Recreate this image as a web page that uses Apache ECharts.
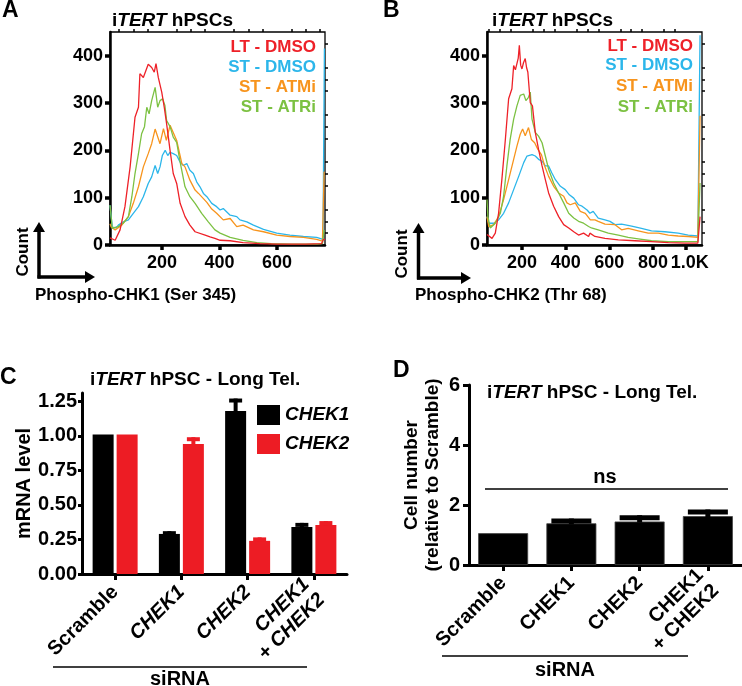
<!DOCTYPE html>
<html><head><meta charset="utf-8">
<script src="https://cdn.jsdelivr.net/npm/echarts@6/dist/echarts.min.js"></script>
<style>html,body{margin:0;padding:0;background:#fff}#c{width:742px;height:686px}</style>
</head><body><div id="c"></div>
<script>
// ---------- Panel A : Phospho-CHK1 (Ser 345) histograms ----------
const aRed = [[19,15],[23,12],[37,10],[54,32],[71,81],[89,165],[106,270],[118,291],[123,362],[135,354],[152,382],[164,375],[173,365],[179,383],[187,354],[199,323],[208,290],[216,256],[228,200],[239,151],[251,130],[263,88],[280,60],[297,42],[315,28],[350,21],[367,17],[384,14],[402,10],[437,9],[482,5],[540,3],[600,2],[700,2],[755,3],[762,12],[767,12]];
const aBlue = [[19,84],[23,60],[27,38],[40,36],[48,42],[65,49],[83,53],[100,67],[118,81],[135,102],[152,130],[164,144],[176,168],[185,151],[193,165],[201,189],[211,200],[220,189],[228,196],[239,193],[251,189],[263,175],[274,168],[286,172],[297,158],[309,151],[321,133],[332,123],[344,109],[356,102],[373,88],[390,81],[402,74],[413,77],[437,63],[460,60],[471,53],[495,49],[518,42],[553,33],[599,25],[645,21],[692,18],[738,16],[760,12],[765,415]];
const aOrange = [[19,45],[23,38],[37,32],[60,42],[83,60],[100,88],[118,123],[135,165],[152,193],[164,214],[176,245],[193,214],[205,246],[215,221],[228,253],[251,221],[269,172],[280,165],[297,137],[315,116],[327,109],[344,98],[356,90],[373,76],[390,67],[413,53],[437,56],[460,39],[482,42],[518,32],[553,28],[599,21],[645,18],[692,16],[738,12],[758,8],[764,155]];
const aGreen = [[19,84],[23,60],[27,35],[37,37],[48,39],[65,46],[83,60],[95,102],[106,151],[118,193],[129,235],[139,250],[147,291],[155,277],[164,305],[176,333],[185,291],[193,305],[202,309],[210,295],[216,263],[228,250],[239,228],[251,217],[263,175],[280,123],[297,102],[315,88],[338,67],[361,49],[384,32],[402,25],[437,16],[482,10],[530,5],[580,3],[650,2],[740,2],[758,3],[764,32]];
const aXTicks = [200, 400, 600];
const aXLabelVals = [200, 400, 600];
const aXTickLabels = ['200', '400', '600'];
const aXMinor = [50,100,150,250,300,350,450,500,550,650,700,750];

// ---------- Panel B : Phospho-CHK2 (Thr 68) histograms ----------
const bRed = [[40,22],[48,18],[63,14],[78,25],[93,67],[108,138],[124,223],[139,309],[154,330],[162,379],[170,370],[177,372],[183,395],[188,422],[194,380],[200,372],[207,385],[215,394],[221,375],[227,365],[238,301],[248,294],[261,238],[276,202],[292,167],[307,138],[322,110],[345,82],[368,60],[391,43],[414,36],[437,28],[459,21],[482,25],[505,18],[511,25],[534,18],[580,14],[641,11],[717,9],[793,7],[870,5],[946,4],[1005,4],[1015,60]];
const bBlue = [[40,60],[48,46],[71,46],[93,53],[116,67],[139,89],[162,117],[185,145],[208,174],[223,188],[246,191],[261,188],[276,181],[292,177],[307,167],[322,167],[337,152],[353,138],[376,124],[398,117],[417,106],[437,99],[459,85],[475,82],[498,74],[511,67],[526,71],[549,57],[580,53],[603,50],[626,43],[656,44],[702,40],[747,35],[793,30],[854,28],[915,25],[961,21],[1005,19],[1015,443]];
const bOrange = [[40,60],[48,39],[71,43],[93,60],[116,96],[139,138],[162,181],[177,209],[192,234],[203,245],[215,231],[230,248],[243,223],[258,216],[273,202],[289,191],[304,167],[322,145],[345,124],[368,110],[391,103],[406,89],[421,85],[444,89],[467,71],[490,67],[513,53],[534,53],[549,50],[580,44],[626,43],[656,32],[686,35],[732,30],[778,25],[824,25],[870,21],[915,19],[961,18],[1005,16],[1015,273]];
const bGreen = [[40,96],[44,60],[55,36],[78,46],[101,67],[116,103],[131,167],[146,223],[162,266],[177,294],[192,316],[200,319],[208,319],[218,305],[230,312],[238,323],[246,266],[261,238],[276,230],[292,216],[307,188],[322,160],[345,131],[368,110],[391,89],[414,67],[437,57],[459,50],[482,46],[505,39],[518,36],[549,32],[595,25],[641,21],[686,16],[732,13],[793,9],[870,7],[946,7],[1005,7],[1015,131]];
const bXTicks = [200, 400, 600, 800, 950];
const bXLabelVals = [200, 400, 600, 800, 968];
const bXTickLabels = ['200', '400', '600', '800', '1.0K'];
const bXMinor = [50,100,150,250,300,350,450,500,550,650,700,750,850,900];

const histYTicks = [0, 100, 200, 300, 400];
const histYMinor = [25,50,75,125,150,175,225,250,275,325,350,375,425];
const histNames = ['LT - DMSO', 'ST - DMSO', 'ST - ATMi', 'ST - ATRi'];

// ---------- Panel C : mRNA level ----------
const cCategories = ['Scramble', 'CHEK1', 'CHEK2', 'CHEK1 + CHEK2'];
const cChek1 = [1.01, 0.29, 1.18, 0.34];
const cChek1Err = [null, 0.31, 1.27, 0.37];
const cChek2 = [1.01, 0.94, 0.24, 0.355];
const cChek2Err = [null, 0.99, 0.265, 0.383];
const cYTicks = [0, 0.25, 0.5, 0.75, 1, 1.25];

// ---------- Panel D : Cell number ----------
const dCategories = ['Scramble', 'CHEK1', 'CHEK2', 'CHEK1 + CHEK2'];
const dCell = [1.06, 1.39, 1.45, 1.63];
const dCellErr = [null, 1.55, 1.66, 1.85];
const dYTicks = [0, 2, 4, 6];

// ---------- styling ----------
const RED = '#ee2128', BLUE = '#2cb6ea', ORANGE = '#f7941d', GREEN = '#7cc142';
const BARRED = '#ed1c24';
const FONT = 'Liberation Sans, Arial, sans-serif';
const bold = (s) => 'bold ' + s + 'px ' + FONT;

const chart = echarts.init(document.getElementById('c'), null, {renderer: 'canvas'});

function histSeries(name, data, color, xi, yi, z) {
  return {type: 'line', name, data, xAxisIndex: xi, yAxisIndex: yi, showSymbol: false, symbol: 'none',
    lineStyle: {color, width: 1.3}, itemStyle: {color}, z, clip: true, silent: true};
}
function errSeries(vals, tops, offset, capW, thick, color, xi, yi) {
  const data = [];
  vals.forEach((v, i) => { if (tops[i] != null) data.push([i, v, tops[i]]); });
  return {type: 'custom', coordinateSystem: 'cartesian2d', xAxisIndex: xi, yAxisIndex: yi,
    encode: {x: 0, y: [1, 2]}, data, z: 5, silent: true,
    renderItem: (params, api) => {
      const lo = api.coord([api.value(0), api.value(1)]);
      const hi = api.coord([api.value(0), api.value(2)]);
      const cx = lo[0] + offset;
      return {type: 'group', children: [
        {type: 'rect', shape: {x: cx - thick / 2, y: hi[1], width: thick, height: lo[1] - hi[1] + 1}, style: {fill: color}},
        {type: 'rect', shape: {x: cx - capW / 2, y: hi[1], width: capW, height: thick}, style: {fill: color}}
      ]};
    }};
}
function histX(grid, min, max, ticks, labelVals, labels, minor) {
  return [
    {type: 'value', gridIndex: grid, min, max, splitLine: {show: false},
      axisLine: {show: true, onZero: false, lineStyle: {color: '#000', width: 2.5}},
      axisTick: {show: true, customValues: ticks, length: 5, lineStyle: {color: '#000', width: 3.5}},
      axisLabel: {show: true, customValues: labelVals, margin: 9, color: '#000', fontFamily: FONT, fontWeight: 'bold', fontSize: 18,
        showMaxLabel: true, showMinLabel: true, hideOverlap: false,
        formatter: (v) => { const k = labelVals.indexOf(v); return k >= 0 ? labels[k] : ''; }}},
    {type: 'value', gridIndex: grid, min, max, splitLine: {show: false},
      axisLine: {show: false, onZero: false},
      axisTick: {show: true, customValues: minor, length: 3, lineStyle: {color: '#000', width: 1.5}},
      axisLabel: {show: false}}
  ];
}
function histY(grid) {
  return [
    {type: 'value', gridIndex: grid, min: 0, max: 450, splitLine: {show: false},
      axisLine: {show: true, onZero: false, lineStyle: {color: '#000', width: 2.5}},
      axisTick: {show: true, customValues: histYTicks, length: 5, lineStyle: {color: '#000', width: 3.5}},
      axisLabel: {show: true, customValues: histYTicks, margin: 7, color: '#000', fontFamily: FONT, fontWeight: 'bold', fontSize: 18}},
    {type: 'value', gridIndex: grid, min: 0, max: 450, splitLine: {show: false},
      axisLine: {show: false, onZero: false},
      axisTick: {show: true, customValues: histYMinor, length: 3, lineStyle: {color: '#000', width: 1.5}},
      axisLabel: {show: false}}
  ];
}

const catLabelC = (v) => v === 'Scramble' ? '{n|Scramble}' :
  v.indexOf('+') >= 0 ? '{i|CHEK1}\n{i|+ CHEK2}' : '{i|' + v + '}';
const catLabelD = (v) => v.indexOf('+') >= 0 ? '{n|CHEK1}\n{n|+ CHEK2}' : '{n|' + v + '}';
const richLbl = {
  n: {fontFamily: FONT, fontWeight: 'bold', fontSize: 20, color: '#000', lineHeight: 22},
  i: {fontFamily: FONT, fontWeight: 'bold', fontStyle: 'italic', fontSize: 20, color: '#000', lineHeight: 22}
};
const titleRich = {
  n: {fontFamily: FONT, fontWeight: 'bold', fontSize: 19, color: '#000'},
  i: {fontFamily: FONT, fontWeight: 'bold', fontStyle: 'italic', fontSize: 19, color: '#000'}
};

const cBarW = 21, cGapPx = 3, cOff = (cBarW + cGapPx) / 2;

const xAxes = [].concat(
  histX(0, 19, 767, aXTicks, aXLabelVals, aXTickLabels, aXMinor),
  histX(1, 40, 1024, bXTicks, bXLabelVals, bXTickLabels, bXMinor),
  [{type: 'category', gridIndex: 2, data: cCategories,
    axisLine: {show: true, onZero: false, lineStyle: {color: '#000', width: 3}},
    axisTick: {show: true, alignWithLabel: true, length: 6, lineStyle: {color: '#000', width: 3}},
    axisLabel: {interval: 0, rotate: 45, margin: 15, formatter: catLabelC, rich: richLbl, color: '#000'}},
   {type: 'category', gridIndex: 3, data: dCategories,
    axisLine: {show: true, onZero: false, lineStyle: {color: '#000', width: 3}},
    axisTick: {show: true, alignWithLabel: true, length: 6, lineStyle: {color: '#000', width: 3}},
    axisLabel: {interval: 0, rotate: 45, margin: 15, formatter: catLabelD, rich: richLbl, color: '#000'}}]
);
const yAxes = [].concat(histY(0), histY(1), [
  {type: 'value', gridIndex: 2, min: 0, max: 1.31, splitLine: {show: false},
    name: 'mRNA level', nameLocation: 'middle', nameGap: 40, nameRotate: 90,
    nameTextStyle: {fontFamily: FONT, fontWeight: 'bold', fontSize: 20, color: '#000'},
    axisLine: {show: true, onZero: false, lineStyle: {color: '#000', width: 3}},
    axisTick: {show: true, customValues: cYTicks, length: 4, lineStyle: {color: '#000', width: 3}},
    axisLabel: {customValues: cYTicks, margin: 5, color: '#000', fontFamily: FONT, fontWeight: 'bold', fontSize: 20,
      formatter: (v) => v.toFixed(2)}},
  {type: 'value', gridIndex: 3, min: 0, max: 6, interval: 2, splitLine: {show: false},
    name: 'Cell number\n(relative to Scramble)', nameLocation: 'middle', nameGap: 26, nameRotate: 90,
    nameTextStyle: {fontFamily: FONT, fontWeight: 'bold', fontSize: 19, color: '#000', lineHeight: 21},
    axisLine: {show: true, onZero: false, lineStyle: {color: '#000', width: 3}},
    axisTick: {show: true, length: 6, lineStyle: {color: '#000', width: 3}},
    axisLabel: {margin: 9, color: '#000', fontFamily: FONT, fontWeight: 'bold', fontSize: 20}}
]);

const series = [
  histSeries(histNames[1], aBlue, BLUE, 0, 0, 2),
  histSeries(histNames[2], aOrange, ORANGE, 0, 0, 3),
  histSeries(histNames[3], aGreen, GREEN, 0, 0, 4),
  histSeries(histNames[0], aRed, RED, 0, 0, 5),
  histSeries(histNames[1], bBlue, BLUE, 2, 2, 2),
  histSeries(histNames[2], bOrange, ORANGE, 2, 2, 3),
  histSeries(histNames[3], bGreen, GREEN, 2, 2, 4),
  histSeries(histNames[0], bRed, RED, 2, 2, 5),
  {type: 'bar', name: 'CHEK1', data: cChek1, xAxisIndex: 4, yAxisIndex: 4, barWidth: cBarW,
    barGap: (cGapPx / cBarW * 100) + '%', itemStyle: {color: '#000'}, silent: true},
  {type: 'bar', name: 'CHEK2', data: cChek2, xAxisIndex: 4, yAxisIndex: 4, barWidth: cBarW,
    barGap: (cGapPx / cBarW * 100) + '%', itemStyle: {color: BARRED}, silent: true},
  errSeries(cChek1, cChek1Err, -cOff, 13, 4, '#000', 4, 4),
  errSeries(cChek2, cChek2Err, cOff, 13, 4, BARRED, 4, 4),
  {type: 'bar', name: 'Cell number', data: dCell, xAxisIndex: 5, yAxisIndex: 5, barWidth: 50,
    itemStyle: {color: '#000', borderColor: '#444', borderWidth: 0.8}, silent: true},
  errSeries(dCell, dCellErr, 0, 40, 5, '#000', 5, 5)
];

function legendTexts(rightX, ys) {
  const cols = [RED, BLUE, ORANGE, GREEN];
  return histNames.map((n, k) => ({type: 'text', silent: true, z: 20,
    style: {text: n, x: rightX, y: ys[k], textAlign: 'right', textVerticalAlign: 'middle', font: bold(17), fill: cols[k]}}));
}
function arrows(vx, topY, baseY, rightX) {
  return [
    {type: 'polyline', shape: {points: [[vx, baseY + 1.5], [vx, topY + 8]]}, style: {stroke: '#000', lineWidth: 3.5}},
    {type: 'polygon', shape: {points: [[vx - 6, topY + 10], [vx + 6, topY + 10], [vx, topY]]}, style: {fill: '#000'}},
    {type: 'polyline', shape: {points: [[vx - 1.5, baseY], [rightX - 8, baseY]]}, style: {stroke: '#000', lineWidth: 3.5}},
    {type: 'polygon', shape: {points: [[rightX - 10, baseY - 6], [rightX - 10, baseY + 6], [rightX, baseY]]}, style: {fill: '#000'}}
  ];
}
const rotText = (t, x, y, size) => ({type: 'text', x, y, rotation: Math.PI / 2, silent: true,
  style: {text: t, x: 0, y: 0, textAlign: 'center', textVerticalAlign: 'middle', font: bold(size), fill: '#000'}});
const plainText = (t, x, y, size, align) => ({type: 'text', silent: true,
  style: {text: t, x, y, textAlign: align || 'center', textVerticalAlign: 'middle', font: bold(size), fill: '#000'}});
const hline = (x1, x2, y, w) => ({type: 'line', silent: true, shape: {x1, y1: y, x2, y2: y}, style: {stroke: '#000', lineWidth: w}});

const graphic = [].concat(
  [plainText('A', 2, 11, 23, 'left'), plainText('B', 383, 11, 23, 'left'),
   plainText('C', 0, 378, 23, 'left'), plainText('D', 393, 371, 23, 'left')],
  legendTexts(316, [47, 67, 87, 107]),
  legendTexts(693, [46, 65, 86, 107]),
  arrows(39, 222, 277, 95), arrows(418.5, 223, 278, 471),
  [rotText('Count', 23, 252, 17), rotText('Count', 402, 254, 17),
   plainText('Phospho-CHK1 (Ser 345)', 35, 295, 17, 'left'),
   plainText('Phospho-CHK2 (Thr 68)', 415, 295, 17, 'left'),
   hline(485, 728, 489, 1.3), plainText('ns', 605, 477, 20),
   hline(53, 307, 667, 1.5), plainText('siRNA', 180, 679, 20),
   hline(442, 688, 656, 1.5), plainText('siRNA', 565, 670, 20)]
);

chart.setOption({
  animation: false,
  backgroundColor: '#fff',
  textStyle: {fontFamily: FONT},
  title: [
    {text: '{n|i}{i|TERT}{n| hPSCs}', left: 112, top: 11, padding: 0, textStyle: {rich: titleRich}},
    {text: '{n|i}{i|TERT}{n| hPSCs}', left: 492, top: 11, padding: 0, textStyle: {rich: titleRich}},
    {text: '{n|i}{i|TERT}{n| hPSC - Long Tel.}', left: 90, top: 370, padding: 0, textStyle: {rich: titleRich}},
    {text: '{n|i}{i|TERT}{n| hPSC - Long Tel.}', left: 487, top: 383, padding: 0, textStyle: {rich: titleRich}}
  ],
  legend: {data: ['CHEK1', 'CHEK2'], orient: 'vertical', left: 257, top: 405, padding: 0,
    itemWidth: 23, itemHeight: 20, itemGap: 9, icon: 'rect', selectedMode: false,
    textStyle: {fontFamily: FONT, fontWeight: 'bold', fontStyle: 'italic', fontSize: 19, color: '#000'}},
  grid: [
    {left: 110, top: 32, width: 215, height: 213, show: true, borderColor: '#000', borderWidth: 1.3, backgroundColor: 'transparent', containLabel: false, outerBoundsMode: 'none'},
    {left: 487, top: 32, width: 215, height: 213, show: true, borderColor: '#000', borderWidth: 1.3, backgroundColor: 'transparent', containLabel: false, outerBoundsMode: 'none'},
    {left: 82, top: 393, width: 265, height: 181, containLabel: false, outerBoundsMode: 'none'},
    {left: 469, top: 385, width: 273, height: 180, containLabel: false, outerBoundsMode: 'none'}
  ],
  xAxis: xAxes,
  yAxis: yAxes,
  series,
  graphic
});
</script>
</body></html>
